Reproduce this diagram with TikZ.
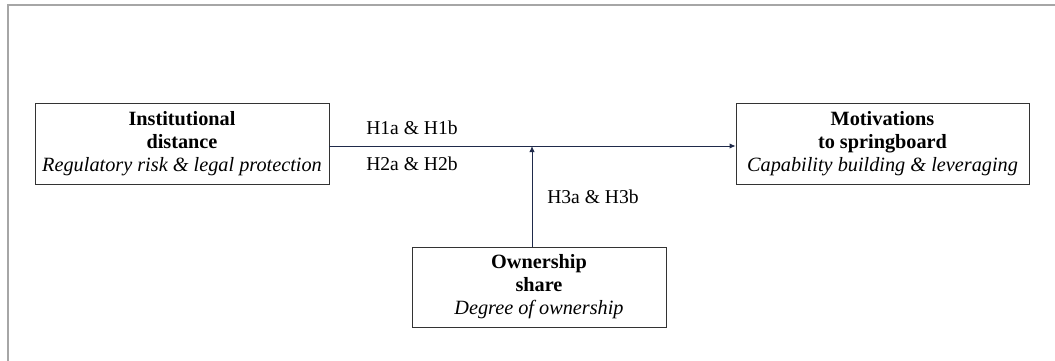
\documentclass[tikz,border=0pt]{standalone}
\usepackage{fontspec}
\setmainfont{Liberation Serif}
\usetikzlibrary{arrows.meta}
\definecolor{navy}{HTML}{1F2A4A}
\definecolor{framegray}{HTML}{A6A6A6}
\tikzset{
  varbox/.style={draw=black!80, line width=0.6pt, align=center, inner sep=0pt,
    font=\fontsize{15.2}{17.2}\selectfont},
  link/.style={draw=navy, line width=0.7pt, -{Latex[length=4.5pt,width=4pt]}},
  hyp/.style={font=\fontsize{14.7}{17}\selectfont, inner sep=0pt}
}
\begin{document}
\begin{tikzpicture}[x=0.75pt,y=-0.75pt]
\useasboundingbox (0,0) rectangle (1055,360);
\draw[framegray, line width=2pt] (8,362) -- (8,5) -- (1057,5);
\node[varbox, minimum width=294*0.75pt, minimum height=81*0.75pt] (inst) at (182,143.5)
  {\textbf{Institutional}\\\textbf{distance}\\\textit{Regulatory risk \& legal protection}};
\node[varbox, minimum width=293*0.75pt, minimum height=81*0.75pt] (motiv) at (882.5,143.5)
  {\textbf{Motivations}\\\textbf{to springboard}\\\textit{Capability building \& leveraging}};
\node[varbox, minimum width=254*0.75pt, minimum height=80*0.75pt] (own) at (539,287)
  {\textbf{Ownership}\\\textbf{share}\\\textit{Degree of ownership}};
\coordinate (j) at (532,146);
\draw[link] (inst.east |- j) -- (motiv.west |- j);
\draw[link] (own.north -| j) -- (j);
\node[hyp] (h1) at (412,128) {H1a \& H1b};
\node[hyp] (h2) at (412,164) {H2a \& H2b};
\node[hyp] (h3) at (593,197) {H3a \& H3b};
\end{tikzpicture}
\end{document}
